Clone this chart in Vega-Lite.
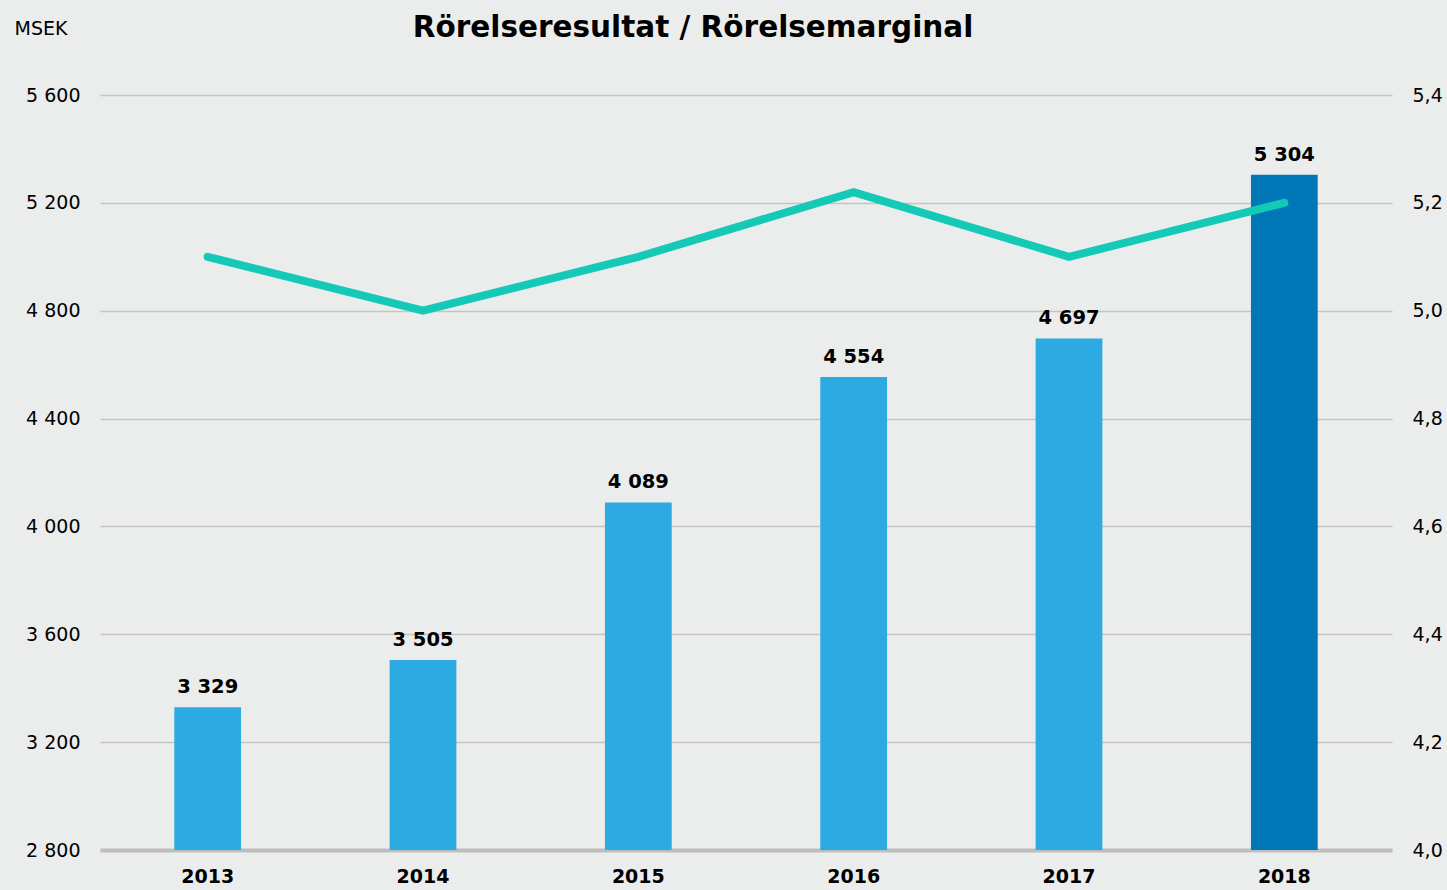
{
  "$schema": "https://vega.github.io/schema/vega-lite/v6.json",
  "width": 1292,
  "height": 755,
  "autosize": {"type": "none"},
  "padding": {"left": 100, "top": 95, "right": 55, "bottom": 40},
  "background": "#EBEDEC",
  "title": {
    "text": "Rörelseresultat / Rörelsemarginal",
    "anchor": "middle",
    "frame": "group",
    "dx": -53,
    "offset": 0,
    "dy": 24,
    "font": "DejaVu Sans",
    "fontSize": 29.5,
    "fontWeight": "bold",
    "color": "#000000"
  },
  "config": {
    "view": {"stroke": null},
    "locale": {"number": {"decimal": ",", "thousands": " ", "grouping": [3], "currency": ["", " kr"]}},
    "font": "DejaVu Sans"
  },
  "data": {
    "values": [
      {"year": "2013", "resultat": 3329, "marginal": 5.1, "hl": "n"},
      {"year": "2014", "resultat": 3505, "marginal": 5.0, "hl": "n"},
      {"year": "2015", "resultat": 4089, "marginal": 5.1, "hl": "n"},
      {"year": "2016", "resultat": 4554, "marginal": 5.22, "hl": "n"},
      {"year": "2017", "resultat": 4697, "marginal": 5.1, "hl": "n"},
      {"year": "2018", "resultat": 5304, "marginal": 5.2, "hl": "y"}
    ]
  },
  "encoding": {
    "x": {
      "field": "year",
      "type": "nominal",
      "scale": {"paddingInner": 0.69, "paddingOuter": 0.345},
      "axis": {
        "title": null,
        "labelAngle": 0,
        "labelFont": "DejaVu Sans",
        "labelFontSize": 19,
        "labelFontWeight": "bold",
        "labelColor": "#000000",
        "labelPadding": 17,
        "ticks": false,
        "domainColor": "#BDBDBD",
        "domainWidth": 4
      }
    }
  },
  "layer": [
    {
      "layer": [
        {
          "mark": {"type": "bar"},
          "encoding": {
            "y": {
              "field": "resultat",
              "type": "quantitative",
              "scale": {"domain": [2800, 5600], "nice": false, "zero": false},
              "axis": {
                "values": [2800, 3200, 3600, 4000, 4400, 4800, 5200, 5600],
                "format": ",d",
                "title": "MSEK",
                "titleAngle": 0,
                "titleAlign": "left",
                "titleBaseline": "middle",
                "titleX": -86,
                "titleY": -67,
                "titleFont": "DejaVu Sans",
                "titleFontSize": 19,
                "titleFontWeight": "normal",
                "titleColor": "#000000",
                "labelFont": "DejaVu Sans",
                "labelFontSize": 19,
                "labelColor": "#000000",
                "labelPadding": 20,
                "domain": false,
                "ticks": false,
                "grid": true,
                "gridColor": "#C4C4C4",
                "gridWidth": 1.5
              }
            },
            "y2": {"datum": 2800},
            "color": {
              "field": "hl",
              "type": "nominal",
              "scale": {"domain": ["n", "y"], "range": ["#2EAAE2", "#0077B6"]},
              "legend": null
            }
          }
        },
        {
          "mark": {"type": "text", "baseline": "bottom", "dy": -10, "fontSize": 19.5, "fontWeight": "bold", "color": "#000000", "font": "DejaVu Sans"},
          "encoding": {
            "y": {"field": "resultat", "type": "quantitative"},
            "text": {"field": "resultat", "type": "quantitative", "format": ",d"}
          }
        }
      ]
    },
    {
      "mark": {"type": "line", "color": "#14C9B6", "strokeWidth": 8, "strokeCap": "round", "strokeJoin": "miter"},
      "encoding": {
        "y": {
          "field": "marginal",
          "type": "quantitative",
          "scale": {"domain": [4.0, 5.4], "nice": false, "zero": false},
          "axis": {
            "orient": "right",
            "values": [4.0, 4.2, 4.4, 4.6, 4.8, 5.0, 5.2, 5.4],
            "format": ".1f",
            "title": null,
            "labelFont": "DejaVu Sans",
            "labelFontSize": 19,
            "labelColor": "#000000",
            "labelPadding": 20,
            "domain": false,
            "ticks": false,
            "grid": false
          }
        }
      }
    }
  ],
  "resolve": {"scale": {"y": "independent"}}
}
